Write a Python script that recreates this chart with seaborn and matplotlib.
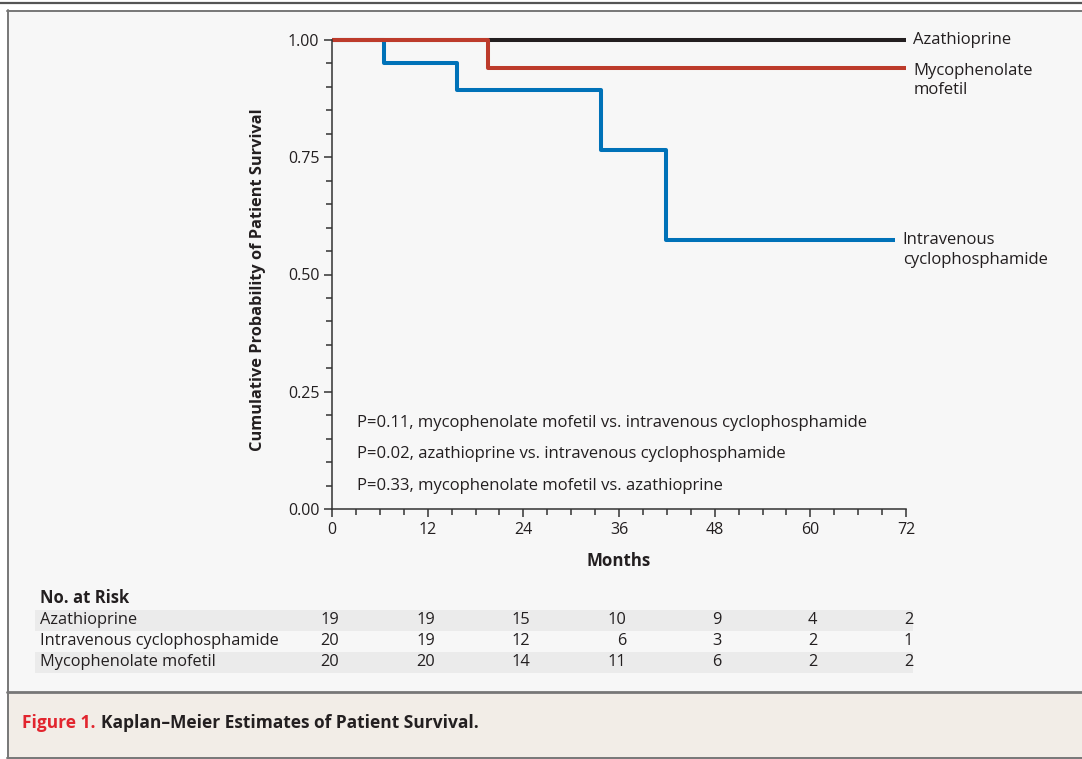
import numpy as np
import pandas as pd
import matplotlib
matplotlib.use("Agg")
import matplotlib.pyplot as plt
import matplotlib.transforms as mtransforms
from matplotlib.patches import Rectangle
from matplotlib.lines import Line2D
import seaborn as sns

# Kaplan-Meier step data
aza_months = [0, 72]
aza_surv = [1.0, 1.0]
mmf_months = [0, 19.6, 72]
mmf_surv = [1.0, 0.94, 0.94]
ivc_months = [0, 6.5, 15.7, 33.8, 41.9, 70.6]
ivc_surv = [1.0, 0.95, 0.894, 0.766, 0.574, 0.574]

# drawing order: red curve ends up on top where the curves overlap
groups = ["Azathioprine", "Intravenous cyclophosphamide", "Mycophenolate mofetil"]
colors = ["#231f20", "#0072b8", "#bd3b2b"]

# number at risk table
risk_months = [0, 12, 24, 36, 48, 60, 72]
risk_rows = ["Azathioprine", "Intravenous cyclophosphamide", "Mycophenolate mofetil"]
risk_aza = [19, 19, 15, 10, 9, 4, 2]
risk_ivc = [20, 19, 12, 6, 3, 2, 1]
risk_mmf = [20, 20, 14, 11, 6, 2, 2]

p_texts = ["P=0.11, mycophenolate mofetil vs. intravenous cyclophosphamide",
           "P=0.02, azathioprine vs. intravenous cyclophosphamide",
           "P=0.33, mycophenolate mofetil vs. azathioprine"]

df = pd.concat([
    pd.DataFrame({"month": aza_months, "surv": aza_surv, "group": groups[0]}),
    pd.DataFrame({"month": ivc_months, "surv": ivc_surv, "group": groups[1]}),
    pd.DataFrame({"month": mmf_months, "surv": mmf_surv, "group": groups[2]}),
])

sns.set_style("ticks")
plt.rcParams["font.family"] = ["Open Sans", "DejaVu Sans"]
text_col = "#231f20"

W, H = 1082, 759
fig = plt.figure(figsize=(W / 100, H / 100), dpi=100)
fig.patch.set_facecolor("white")

def fx(px):
    return px / W

def fy(py):
    return 1 - py / H

# panel background, caption strip and frames
fig.add_artist(Rectangle((fx(7), fy(759)), fx(1082 - 7), fy(10) - fy(759),
                         facecolor="#f7f7f7", edgecolor="none", zorder=-10))
fig.add_artist(Rectangle((fx(7), fy(759)), fx(1082 - 7), fy(692) - fy(759),
                         facecolor="#f2ede7", edgecolor="none", zorder=-9))
fig.add_artist(Line2D([fx(0), fx(1082)], [fy(3), fy(3)], color="#555555", lw=1.6))
fig.add_artist(Line2D([fx(8), fx(8)], [fy(10), fy(759)], color="#777777", lw=1.4))
fig.add_artist(Line2D([fx(7), fx(1082)], [fy(11), fy(11)], color="#777777", lw=1.4))
fig.add_artist(Line2D([fx(7), fx(1082)], [fy(692), fy(692)], color="#777777", lw=2))
fig.add_artist(Line2D([fx(7), fx(1082)], [fy(758), fy(758)], color="#777777", lw=1.4))

ax = fig.add_axes([fx(332), fy(509), fx(906) - fx(332), fy(40) - fy(509)])
ax.set_facecolor("none")

sns.lineplot(data=df, x="month", y="surv", hue="group", hue_order=groups,
             palette=colors, estimator=None, sort=False, drawstyle="steps-post",
             linewidth=2.9, legend=False, ax=ax, zorder=3)
for ln in ax.lines:
    ln.set_clip_on(False)
    ln.set_solid_capstyle("butt")

ax.set_xlim(0, 72)
ax.set_ylim(0, 1.0)
ax.set_xticks(np.arange(0, 73, 12))
ax.set_xticks(np.arange(0, 73, 3), minor=True)
ax.set_yticks([0, 0.25, 0.5, 0.75, 1.0])
ax.set_yticks(np.arange(0, 1.001, 0.05), minor=True)
ax.set_yticklabels(["0.00", "0.25", "0.50", "0.75", "1.00"])
for s in ["top", "right"]:
    ax.spines[s].set_visible(False)
for s in ["left", "bottom"]:
    ax.spines[s].set_color("#333333")
    ax.spines[s].set_linewidth(1.1)
    ax.spines[s].set_zorder(4)
ax.tick_params(which="both", bottom=True, left=True, top=False, right=False)
ax.tick_params(which="major", direction="out", length=6, width=1.1, color="#333333",
               labelsize=11.5, labelcolor=text_col, pad=3)
ax.tick_params(which="minor", direction="out", length=4, width=1.1, color="#333333")
ax.set_xlabel("Months", fontsize=12.2, fontweight="bold", color=text_col)
ax.xaxis.set_label_coords(0.5, (509 - 561) / 469)
ax.xaxis.label.set_va("center")
ax.set_ylabel("Cumulative Probability of Patient Survival", fontsize=11.8,
              fontweight="bold", color=text_col)
ax.yaxis.set_label_coords((258 - 332) / 574, 0.49)
ax.yaxis.label.set_va("center")

# curve labels
lab_fs = 12
ax.text(72.9, 1.0, "Azathioprine", fontsize=lab_fs, color=text_col, va="center",
        ha="left", clip_on=False)
ax.text(72.9, 0.952, "Mycophenolate\nmofetil", fontsize=lab_fs, color=text_col,
        va="top", ha="left", linespacing=1.32, clip_on=False)
ax.text(71.6, 0.591, "Intravenous\ncyclophosphamide", fontsize=lab_fs, color=text_col,
        va="top", ha="left", linespacing=1.32, clip_on=False)

for py, t in zip([423, 454, 486], p_texts):
    ax.text(3.1, (509 - py) / 469, t, fontsize=12, color=text_col, va="center", ha="left")

# number at risk table
tr = mtransforms.blended_transform_factory(ax.transData, fig.transFigure)
fig.text(fx(40), fy(598), "No. at Risk", fontsize=12, fontweight="bold",
         color=text_col, va="center", ha="left")
row_y = [620, 641, 662]
for i, (name, vals) in enumerate(zip(risk_rows, [risk_aza, risk_ivc, risk_mmf])):
    if i != 1:
        fig.add_artist(Rectangle((fx(35), fy(row_y[i] + 10.5)), fx(913) - fx(35),
                                 fy(row_y[i] - 10.5) - fy(row_y[i] + 10.5),
                                 facecolor="#ebebeb", edgecolor="none", zorder=-5))
    fig.text(fx(40), fy(row_y[i]), name, fontsize=11.8, color=text_col,
             va="center", ha="left")
    for m, v in zip(risk_months, vals):
        fig.text(m + 0.9, fy(row_y[i]), str(v), fontsize=11.8, color=text_col,
                 va="center", ha="right", transform=tr)

# caption: red figure number followed by the bold title
cap1 = fig.text(fx(22), fy(723), "Figure 1.", fontsize=12.5, fontweight="bold",
                color="#e2252e", va="center", ha="left")
fig.canvas.draw()
bb = cap1.get_window_extent(renderer=fig.canvas.get_renderer())
fig.text(bb.x1 / W + fx(5), fy(723), "Kaplan\u2013Meier Estimates of Patient Survival.",
         fontsize=12.5, fontweight="bold", color=text_col, va="center", ha="left")

fig.savefig("out.png", dpi=100)
